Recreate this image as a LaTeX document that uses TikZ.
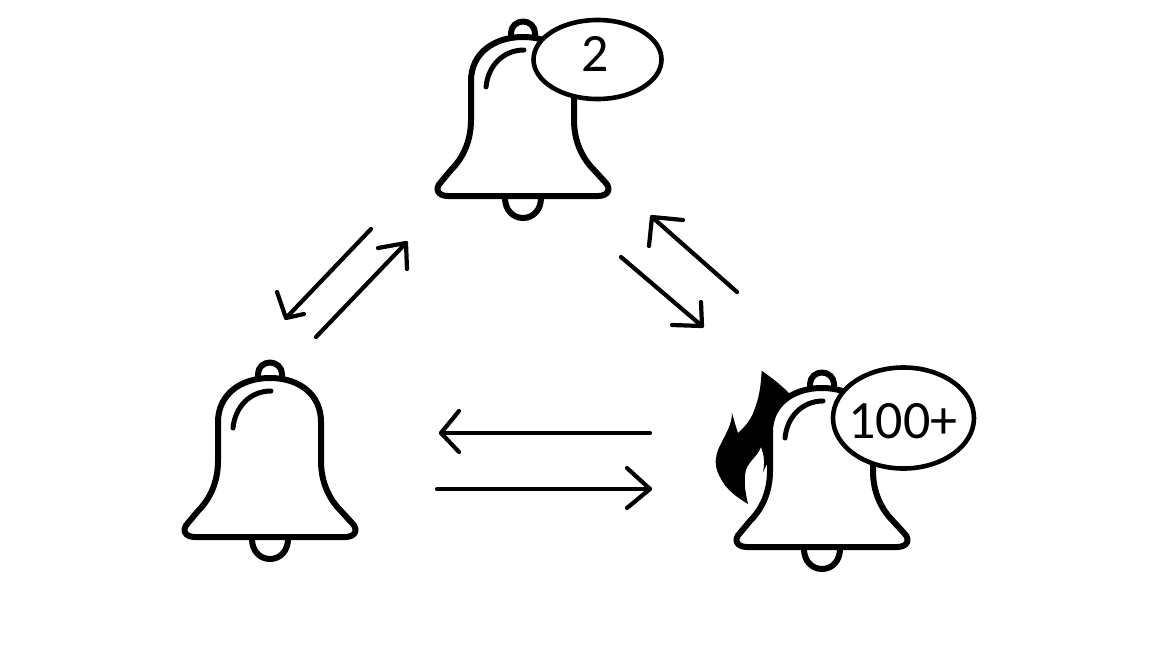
\documentclass[tikz,border=0pt]{standalone}
\usepackage{fontspec}
\usetikzlibrary{shapes.geometric}
\setmainfont{Carlito}
\newcommand{\badgetext}[3]{\makebox[0pt]{\hspace{#1}\smash{\raisebox{#2}{#3}}}}
\tikzset{
  conn/.style={line width=4.2pt,line cap=round,line join=round,black},
  badge/.style={ellipse,draw=black,fill=white,line width=4.6pt,inner sep=0pt,font=\fontsize{54}{60}\selectfont,text=black},
  bellline/.style={line width=6pt,line join=round,line cap=round,black},
  bell/.pic={
    \draw[bellline] (-12,-158) -- (-12,-163) .. controls (-12,-170) and (-6,-174.5) .. (0,-174.5)
      .. controls (6,-174.5) and (12,-170) .. (12,-163) -- (12,-158);
    \draw[bellline] (-18,2) .. controls (-18,14) and (-10,22) .. (0,22)
      .. controls (10,22) and (18,14) .. (18,2);
    \draw[bellline,fill=white] (-75,0) -- (75,0) .. controls (85,0) and (89,-7) .. (82,-14)
      -- (71,-26) .. controls (59,-38) and (51,-55) .. (51,-76) -- (51,-115)
      .. controls (51,-142) and (30,-159) .. (0,-159)
      .. controls (-30,-159) and (-52,-142) .. (-52,-115) -- (-52,-76)
      .. controls (-52,-55) and (-60,-38) .. (-72,-26)
      -- (-82,-14) .. controls (-89,-7) and (-85,0) .. (-75,0) -- cycle;
    \draw[line width=5pt,line cap=round,black] (-37,-109) .. controls (-35,-130) and (-20,-146) .. (1,-146);
  }
}
\begin{document}
\begin{tikzpicture}[x=1pt,y=-1pt]
\useasboundingbox[fill=white] (0,0) rectangle (1152,648);
% flame behind the right bell
\fill[black] (761.7,370.7) .. controls (772,378) and (781,385) .. (789,393)
  -- (800,420) -- (785,440) -- (774,450) -- (763,472)
  .. controls (765,462) and (764,455) .. (761,447)
  .. controls (757,458) and (746,462) .. (745,475)
  .. controls (744,486) and (746,495) .. (748,504)
  .. controls (738,498) and (726,490) .. (720,477)
  .. controls (716,470) and (715,463) .. (716,458)
  .. controls (717,445) and (732,430) .. (732,413)
  .. controls (734,420) and (736,427) .. (738,433)
  .. controls (746,426) and (752,418) .. (755,408)
  .. controls (760,395) and (761,382) .. (761.7,370.7) -- cycle;
\pic (bellT) at (523,196) {bell};
\pic (bellL) at (270,537) {bell};
\pic (bellR) at (822,547) {bell};
\node[badge,minimum width=128pt,minimum height=79pt] (countT) at (597.5,59.5) {\badgetext{-5pt}{-12pt}{2}};
\node[badge,minimum width=141pt,minimum height=101pt] (countR) at (903.5,418) {\badgetext{-1pt}{-20pt}{100+}};
% left diagonal pair
\coordinate (a1s) at (371,229); \coordinate (a1t) at (286,318);
\coordinate (a1b) at (277,292); \coordinate (a1c) at (304,314);
\coordinate (a2s) at (316,337); \coordinate (a2t) at (406,243);
\coordinate (a2b) at (378,248); \coordinate (a2c) at (407,269);
% right diagonal pair
\coordinate (a3s) at (737,292); \coordinate (a3t) at (652,217);
\coordinate (a3b) at (649,246); \coordinate (a3c) at (683,220);
\coordinate (a4s) at (621,257); \coordinate (a4t) at (702,326);
\coordinate (a4b) at (701,302); \coordinate (a4c) at (672,325);
% horizontal pair
\coordinate (a5s) at (650,433); \coordinate (a5t) at (441,433);
\coordinate (a5b) at (459,411); \coordinate (a5c) at (459,452);
\coordinate (a6s) at (437,489); \coordinate (a6t) at (650,489);
\coordinate (a6b) at (627,468); \coordinate (a6c) at (627,508);
\foreach \a in {a1,a2,a3,a4,a5,a6}{
  \draw[conn] (\a s) -- (\a t);
  \draw[conn] (\a b) -- (\a t) -- (\a c);
}
\end{tikzpicture}
\end{document}
